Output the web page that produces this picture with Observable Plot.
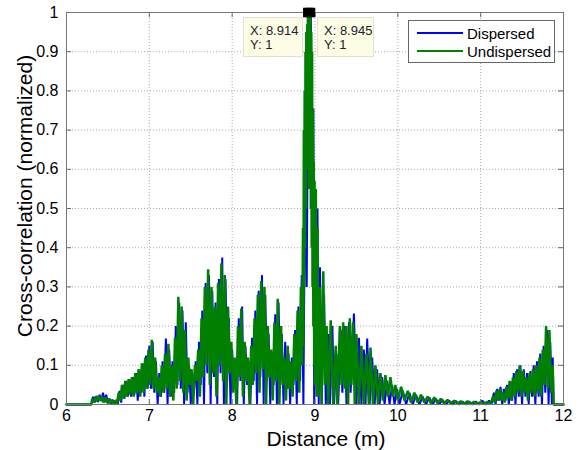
<!DOCTYPE html>
<html><head><meta charset="utf-8">
<script src="https://cdn.jsdelivr.net/npm/d3@7"></script>
<script src="https://cdn.jsdelivr.net/npm/@observablehq/plot@0.6"></script>
<style>
body{margin:0;background:#fff;font-family:"Liberation Sans",Arial,sans-serif;}
#wrap{position:relative;width:579px;height:450px;overflow:hidden;background:#fff;}
#wrap svg{position:absolute;left:0;top:0;}
.tip{position:absolute;background:#fdfde6;border:1px solid #e2e2d2;font-size:13px;line-height:14px;color:#222;box-sizing:border-box;padding:6px 0 0 6px;}
.legend{position:absolute;left:408px;top:20px;width:147px;height:43px;border:1px solid #666;background:#fff;box-sizing:border-box;font-size:15px;color:#000;}
.legend .row{position:absolute;left:8px;height:18px;display:flex;align-items:center;}
.legend .sw{width:46px;height:0;border-top:2px solid;margin-right:4px;}
.axlab{position:absolute;font-size:21px;color:#000;white-space:nowrap;}
</style></head><body><div id="wrap"></div>
<script>
// Axis ticks
const xTicks = [6, 7, 8, 9, 10, 11, 12];
const yTicks = [0, 0.1, 0.2, 0.3, 0.4, 0.5, 0.6, 0.7, 0.8, 0.9, 1];
const yTickLabels = ["0", "0.1", "0.2", "0.3", "0.4", "0.5", "0.6", "0.7", "0.8", "0.9", "1"];
const seriesNames = ["Dispersed", "Undispersed"];
const seriesColors = ["#0000ff", "#008000"];

// Undispersed: [distance (m), normalized cross-correlation]
const undispersed = [
[6.00,0],[6.30,0],[6.31,0.015],[6.33,0.005],[6.35,0.02],[6.37,0.008],[6.39,0.022],[6.41,0.01],[6.43,0.02],[6.45,0.005],[6.47,0.018],[6.49,0.004],[6.51,0.015],[6.53,0.003],[6.55,0.012],[6.57,0.002],[6.59,0.01],[6.61,0.002],
[6.63,0.03],[6.65,0.01],[6.67,0.05],[6.69,0.015],[6.71,0.06],[6.73,0.02],[6.75,0.065],[6.77,0.025],[6.79,0.07],[6.81,0.02],[6.83,0.08],[6.85,0.03],[6.87,0.09],[6.89,0.02],[6.91,0.105],[6.93,0.03],[6.95,0.12],[6.97,0.04],[6.99,0.14],[7.01,0.05],[7.03,0.165],[7.05,0.04],[7.07,0.12],[7.09,0.03],[7.11,0.07],[7.13,0.02],[7.15,0.1],[7.17,0.03],[7.19,0.13],[7.21,0.04],[7.23,0.155],[7.25,0.02],[7.27,0.1],[7.29,0.01],[7.31,0.17],[7.33,0.04],[7.35,0.275],[7.37,0.06],[7.39,0.25],[7.41,0.03],[7.43,0.19],[7.45,0.01],[7.47,0.12],[7.49,0.05],[7.51,0.09],[7.53,0.0],[7.55,0.1],[7.57,0.06],[7.59,0.14],[7.61,0.02],[7.63,0.22],[7.65,0.07],[7.67,0.3],[7.69,0.1],[7.71,0.345],[7.73,0.05],[7.75,0.3],[7.77,0.08],[7.79,0.25],[7.81,0.02],[7.83,0.31],[7.85,0.1],[7.87,0.36],[7.89,0.06],[7.91,0.33],[7.93,0.0],[7.95,0.25],[7.97,0.08],[7.99,0.16],[8.01,0.03],[8.03,0.12],[8.05,0.0],[8.07,0.2],[8.09,0.07],[8.11,0.245],[8.13,0.02],[8.15,0.16],[8.17,0.06],[8.19,0.12],[8.21,0.0],[8.23,0.15],[8.25,0.05],[8.27,0.22],[8.29,0.08],[8.31,0.28],[8.33,0.03],[8.35,0.315],[8.37,0.09],[8.39,0.3],[8.41,0.0],[8.43,0.2],[8.45,0.07],[8.47,0.14],[8.49,0.01],[8.51,0.21],[8.53,0.06],[8.55,0.27],[8.57,0.0],[8.59,0.2],[8.61,0.05],[8.63,0.12],[8.65,0.01],[8.67,0.15],[8.69,0.04],[8.71,0.11],[8.73,0.02],[8.75,0.18],[8.77,0.06],[8.79,0.24],[8.81,0.03],[8.83,0.3],[8.845,0.1],[8.855,0.45],[8.86,0.15],[8.865,0.7],[8.87,0.3],[8.875,0.8],[8.88,0.4],[8.885,0.9],[8.89,0.5],[8.895,0.95],[8.90,0.6],[8.905,0.97],[8.91,0.65],[8.914,1.0],[8.92,0.6],[8.925,0.98],[8.93,0.55],[8.935,0.97],[8.94,0.6],[8.945,1.0],[8.95,0.5],[8.955,0.95],[8.96,0.4],[8.965,0.9],[8.97,0.3],[8.975,0.75],[8.98,0.2],[8.985,0.62],[8.99,0.1],[8.995,0.57],[9.00,0.05],[9.01,0.55],[9.02,0.02],[9.03,0.45],[9.04,0.02],[9.06,0.3],[9.08,0.0],[9.10,0.34],[9.12,0.05],[9.14,0.2],[9.16,0.0],[9.19,0.215],[9.22,0.0],[9.25,0.15],[9.27,0.0],[9.30,0.2],[9.32,0.05],[9.34,0.21],[9.36,0.04],[9.38,0.2],[9.40,0.0],[9.42,0.22],[9.44,0.05],[9.46,0.21],[9.48,0.0],[9.50,0.18],[9.53,0.0],[9.56,0.15],[9.59,0.0],[9.62,0.13],[9.65,0.0],[9.67,0.145],[9.70,0.0],[9.73,0.1],[9.76,0.0],[9.79,0.08],[9.82,0.01],[9.85,0.075],[9.88,0.02],[9.91,0.07],[9.94,0.02],[9.97,0.05],[10.00,0.01],[10.04,0.045],[10.08,0.01],[10.12,0.035],[10.16,0.005],[10.20,0.03],[10.24,0.005],[10.28,0.025],[10.32,0.005],[10.36,0.02],[10.40,0.003],[10.44,0.018],[10.48,0.003],[10.52,0.015],[10.56,0.002],[10.60,0.012],[10.64,0.002],[10.68,0.01],[10.72,0.002],[10.76,0.008],[10.80,0.002],[10.84,0.008],[10.88,0.002],[10.92,0.007],[10.96,0.002],[11.00,0.006],[11.04,0.002],[11.08,0.006],[11.12,0.003],[11.15,0.02],[11.17,0.005],[11.19,0.035],[11.21,0.01],[11.23,0.04],[11.25,0.01],[11.27,0.03],[11.29,0.005],[11.31,0.045],[11.33,0.015],[11.35,0.06],[11.37,0.01],[11.39,0.07],[11.41,0.02],[11.43,0.085],[11.45,0.03],[11.47,0.1],[11.49,0.02],[11.51,0.085],[11.53,0.03],[11.55,0.07],[11.57,0.01],[11.59,0.08],[11.61,0.03],[11.63,0.09],[11.65,0.02],[11.67,0.1],[11.69,0.03],[11.71,0.12],[11.73,0.02],[11.75,0.14],[11.77,0.05],[11.79,0.2],[11.81,0.04],[11.83,0.19],[11.85,0.03],[11.87,0.1],[11.88,0.0],[12.00,0]
];

// Dispersed: [distance (m), normalized cross-correlation]
const dispersed = [
[6.00,0],[6.30,0],[6.32,0.02],[6.34,0.005],[6.36,0.022],[6.38,0.006],[6.40,0.025],[6.42,0.008],[6.44,0.03],[6.46,0.01],[6.48,0.025],[6.50,0.003],[6.52,0.015],[6.54,0.0],[6.56,0.012],[6.58,0.0],[6.60,0.012],[6.62,0.0],[6.64,0.035],[6.66,0.005],[6.68,0.05],[6.70,0.015],[6.72,0.06],[6.74,0.02],[6.76,0.065],[6.78,0.02],[6.80,0.07],[6.82,0.025],[6.84,0.08],[6.86,0.01],[6.88,0.09],[6.90,0.03],[6.92,0.105],[6.94,0.02],[6.96,0.125],[6.98,0.04],[7.00,0.15],[7.02,0.04],[7.04,0.16],[7.06,0.03],[7.08,0.11],[7.10,0.0],[7.12,0.08],[7.14,0.02],[7.16,0.11],[7.18,0.03],[7.20,0.168],[7.22,0.0],[7.24,0.14],[7.26,0.02],[7.28,0.11],[7.30,0.03],[7.32,0.2],[7.34,0.05],[7.36,0.26],[7.38,0.04],[7.40,0.24],[7.42,0.0],[7.44,0.21],[7.46,0.03],[7.48,0.1],[7.50,0.0],[7.52,0.08],[7.54,0.04],[7.56,0.11],[7.58,0.0],[7.60,0.16],[7.62,0.05],[7.64,0.24],[7.66,0.0],[7.68,0.31],[7.70,0.08],[7.72,0.33],[7.74,0.0],[7.76,0.29],[7.78,0.07],[7.80,0.26],[7.82,0.0],[7.84,0.32],[7.86,0.08],[7.88,0.375],[7.90,0.0],[7.92,0.32],[7.94,0.06],[7.96,0.22],[7.98,0.0],[8.00,0.14],[8.02,0.05],[8.04,0.1],[8.06,0.0],[8.08,0.22],[8.10,0.06],[8.12,0.25],[8.14,0.0],[8.16,0.15],[8.18,0.05],[8.20,0.11],[8.22,0.0],[8.24,0.17],[8.26,0.06],[8.28,0.24],[8.30,0.0],[8.32,0.29],[8.34,0.07],[8.36,0.33],[8.38,0.0],[8.40,0.28],[8.42,0.06],[8.44,0.18],[8.46,0.0],[8.48,0.13],[8.50,0.05],[8.52,0.23],[8.54,0.0],[8.56,0.26],[8.58,0.05],[8.60,0.18],[8.62,0.0],[8.64,0.16],[8.66,0.04],[8.68,0.13],[8.70,0.0],[8.72,0.12],[8.74,0.05],[8.76,0.19],[8.78,0.0],[8.80,0.25],[8.82,0.06],[8.84,0.33],[8.86,0.0],[8.88,0.6],[8.90,0.3],[8.92,0.97],[8.935,0.8],[8.95,1.0],[8.965,0.6],[8.98,0.755],[8.99,0.0],[9.03,0.5],[9.045,0.0],[9.06,0.35],[9.08,0.0],[9.11,0.28],[9.13,0.0],[9.16,0.18],[9.18,0.0],[9.21,0.2],[9.23,0.0],[9.26,0.13],[9.28,0.0],[9.31,0.19],[9.33,0.03],[9.36,0.2],[9.38,0.0],[9.41,0.21],[9.43,0.03],[9.47,0.232],[9.50,0.0],[9.53,0.17],[9.56,0.0],[9.59,0.14],[9.61,0.0],[9.63,0.168],[9.66,0.0],[9.69,0.12],[9.72,0.0],[9.75,0.09],[9.78,0.0],[9.81,0.07],[9.84,0.0],[9.87,0.06],[9.90,0.0],[9.93,0.05],[9.96,0.0],[9.99,0.04],[10.02,0.0],[10.06,0.035],[10.10,0.0],[10.14,0.03],[10.18,0.0],[10.22,0.025],[10.26,0.0],[10.30,0.02],[10.34,0.0],[10.38,0.018],[10.42,0.0],[10.46,0.015],[10.50,0.0],[10.54,0.012],[10.58,0.0],[10.62,0.01],[10.66,0.0],[10.70,0.009],[10.74,0.0],[10.78,0.008],[10.82,0.0],[10.86,0.008],[10.90,0.0],[10.94,0.008],[10.98,0.0],[11.02,0.01],[11.06,0.0],[11.10,0.01],[11.13,0.0],[11.16,0.03],[11.18,0.0],[11.20,0.04],[11.22,0.01],[11.24,0.045],[11.26,0.0],[11.28,0.04],[11.30,0.01],[11.32,0.05],[11.34,0.0],[11.36,0.06],[11.38,0.01],[11.40,0.08],[11.42,0.0],[11.44,0.09],[11.46,0.02],[11.48,0.1],[11.50,0.0],[11.52,0.09],[11.54,0.02],[11.56,0.08],[11.58,0.0],[11.60,0.085],[11.62,0.02],[11.64,0.1],[11.66,0.0],[11.68,0.11],[11.70,0.02],[11.72,0.13],[11.74,0.0],[11.76,0.15],[11.78,0.03],[11.80,0.19],[11.82,0.0],[11.84,0.16],[11.86,0.0],[11.87,0.12],[11.88,0.0],[12.00,0]
];

// Data tips
const tipX = [8.914, 8.945];
const tipY = [1, 1];
const tipText = [["X: 8.914", "Y: 1"], ["X: 8.945", "Y: 1"]];

const toRows = a => a.map(([d, c]) => ({d, c}));
const markers = tipX.map((x, i) => ({x, y: tipY[i]}));
const tl = 5 / 392, tlx = 5 / 82.8;

const chart = Plot.plot({
  width: 579, height: 450,
  marginLeft: 66, marginRight: 16, marginTop: 12, marginBottom: 46,
  x: {domain: [6, 12]},
  y: {domain: [0, 1]},
  style: {fontFamily: "'Liberation Sans', Arial, sans-serif", fontSize: "16px", color: "#000", background: "transparent", overflow: "visible"},
  marks: [
    Plot.gridX(xTicks.slice(1, -1), {stroke: "#aaa", strokeOpacity: 1, strokeDasharray: "1,2"}),
    Plot.gridY(yTicks.slice(1, -1), {stroke: "#aaa", strokeOpacity: 1, strokeDasharray: "1,2"}),
    Plot.line(toRows(dispersed), {x: "d", y: "c", stroke: seriesColors[0], strokeWidth: 2, strokeLinejoin: "miter"}),
    Plot.line(toRows(undispersed), {x: "d", y: "c", stroke: seriesColors[1], strokeWidth: 2.5, strokeLinejoin: "miter"}),
    Plot.ruleX(xTicks.slice(1, -1), {y1: 0, y2: tl, stroke: "#666"}),
    Plot.ruleX(xTicks.slice(1, -1), {y1: 1 - tl, y2: 1, stroke: "#666"}),
    Plot.ruleY(yTicks.slice(1, -1), {x1: 6, x2: 6 + tlx, stroke: "#666"}),
    Plot.ruleY(yTicks.slice(1, -1), {x1: 12 - tlx, x2: 12, stroke: "#666"}),
    Plot.frame({stroke: "#777"}),
    Plot.axisX(xTicks, {tickSize: 0, tickPadding: 5, label: null, fontSize: 16, tickFormat: d => String(d)}),
    Plot.axisY(yTicks, {tickSize: 0, tickPadding: 8, label: null, fontSize: 16, tickFormat: (d, i) => yTickLabels[i]}),
    Plot.dot(markers, {x: "x", y: "y", symbol: "square", fill: "#000", stroke: "#000", r: 4.6})
  ]
});

const wrap = document.getElementById("wrap");
wrap.appendChild(chart);

function addDiv(cls, style, html) {
  const el = document.createElement("div");
  el.className = cls;
  Object.assign(el.style, style);
  el.innerHTML = html;
  wrap.appendChild(el);
  return el;
}

// Data tip boxes
const tipBoxes = [{left: "243px", top: "17px", width: "60px"}, {left: "317px", top: "17px", width: "57px"}];
tipText.forEach((t, i) => addDiv("tip", Object.assign({height: "40px"}, tipBoxes[i]), t.map(s => `<div>${s}</div>`).join("")));

// Legend
const leg = addDiv("legend", {}, "");
seriesNames.forEach((n, i) => {
  const r = document.createElement("div");
  r.className = "row";
  r.style.top = (3 + i * 18) + "px";
  r.innerHTML = `<span class="sw" style="border-color:${seriesColors[i]}"></span><span>${n}</span>`;
  leg.appendChild(r);
});

// Axis titles
addDiv("axlab", {left: "326px", top: "439px", transform: "translate(-50%,-50%)"}, "Distance (m)");
addDiv("axlab", {left: "25px", top: "196px", transform: "translate(-50%,-50%) rotate(-90deg)"}, "Cross-correlation (normalized)");
</script>
</body></html>
